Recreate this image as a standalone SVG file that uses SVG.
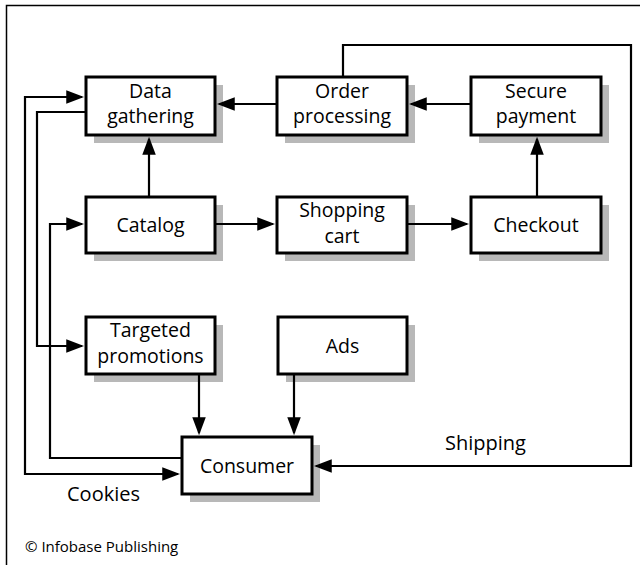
<svg xmlns="http://www.w3.org/2000/svg" width="640" height="565" viewBox="0 0 640 565">
<style>
.box{fill:#fff;stroke:#000;stroke-width:3}
.sh{fill:#b8b8b8}
.t{font-family:"Open Sans","Liberation Sans",sans-serif;font-size:19.5px;fill:#000;text-anchor:middle}
.lbl{font-family:"Open Sans","Liberation Sans",sans-serif;font-size:20px;fill:#000}
.c{fill:none;stroke:#000;stroke-width:2.2}
</style>
<defs>
<marker id="ah" markerUnits="userSpaceOnUse" markerWidth="18" markerHeight="14" refX="14" refY="6" orient="auto-start-reverse" viewBox="0 0 16 12">
<path d="M0,0 L16,6 L0,12 z" fill="#000"/>
</marker>
</defs>
<rect width="640" height="565" fill="#fff"/>
<path d="M640,5.5 H6.5 V565" fill="none" stroke="#000" stroke-width="1.5"/>

<g id="n-data">
<rect class="sh" x="94" y="85" width="129" height="58"/>
<rect class="box" x="86" y="77" width="129" height="58"/>
<text class="t" x="150.5" y="97.5">Data</text>
<text class="t" x="150.5" y="122.5">gathering</text>
</g>
<g id="n-order">
<rect class="sh" x="285" y="85" width="130" height="58"/>
<rect class="box" x="277" y="77" width="130" height="58"/>
<text class="t" x="342" y="97.5">Order</text>
<text class="t" x="342" y="122.5">processing</text>
</g>
<g id="n-secure">
<rect class="sh" x="479" y="85" width="130" height="58"/>
<rect class="box" x="471" y="77" width="130" height="58"/>
<text class="t" x="536" y="97.5">Secure</text>
<text class="t" x="536" y="122.5">payment</text>
</g>
<g id="n-catalog">
<rect class="sh" x="94" y="205" width="129" height="56"/>
<rect class="box" x="86" y="197" width="129" height="56"/>
<text class="t" x="150.5" y="232">Catalog</text>
</g>
<g id="n-cart">
<rect class="sh" x="285" y="205" width="130" height="56"/>
<rect class="box" x="277" y="197" width="130" height="56"/>
<text class="t" x="342" y="216.5">Shopping</text>
<text class="t" x="342" y="242.5">cart</text>
</g>
<g id="n-checkout">
<rect class="sh" x="479" y="205" width="130" height="56"/>
<rect class="box" x="471" y="197" width="130" height="56"/>
<text class="t" x="536" y="232">Checkout</text>
</g>
<g id="n-targeted">
<rect class="sh" x="94" y="325" width="129" height="57"/>
<rect class="box" x="86" y="317" width="129" height="57"/>
<text class="t" x="150.5" y="336.5">Targeted</text>
<text class="t" x="150.5" y="362.5">promotions</text>
</g>
<g id="n-ads">
<rect class="sh" x="286" y="325" width="129" height="57"/>
<rect class="box" x="278" y="317" width="129" height="57"/>
<text class="t" x="342.5" y="353">Ads</text>
</g>
<g id="n-consumer">
<rect class="sh" x="190" y="445" width="130" height="57"/>
<rect class="box" x="182" y="437" width="130" height="57"/>
<text class="t" x="247" y="473">Consumer</text>
</g>

<g id="connectors">
<path class="c" d="M277,104 H219" marker-end="url(#ah)"/>
<path class="c" d="M471,104 H411" marker-end="url(#ah)"/>
<path class="c" d="M149,197 V139" marker-end="url(#ah)"/>
<path class="c" d="M537,197 V139" marker-end="url(#ah)"/>
<path class="c" d="M215,224 H273" marker-end="url(#ah)"/>
<path class="c" d="M407,224 H467" marker-end="url(#ah)"/>
<path class="c" d="M199,374 V433" marker-end="url(#ah)"/>
<path class="c" d="M294,374 V433" marker-end="url(#ah)"/>
<path class="c" d="M343,77 V45 H631 V466 H316" marker-end="url(#ah)"/>
<path class="c" d="M82,97 H25 V474 H178" marker-start="url(#ah)" marker-end="url(#ah)"/>
<path class="c" d="M86,112 H37 V346 H82" marker-end="url(#ah)"/>
<path class="c" d="M182,458 H50 V224 H82" marker-end="url(#ah)"/>
</g>

<text class="lbl" x="445" y="450">Shipping</text>
<text class="lbl" x="67" y="501">Cookies</text>
<text class="lbl" x="25" y="552" style="font-size:15px">© Infobase Publishing</text>
</svg>
